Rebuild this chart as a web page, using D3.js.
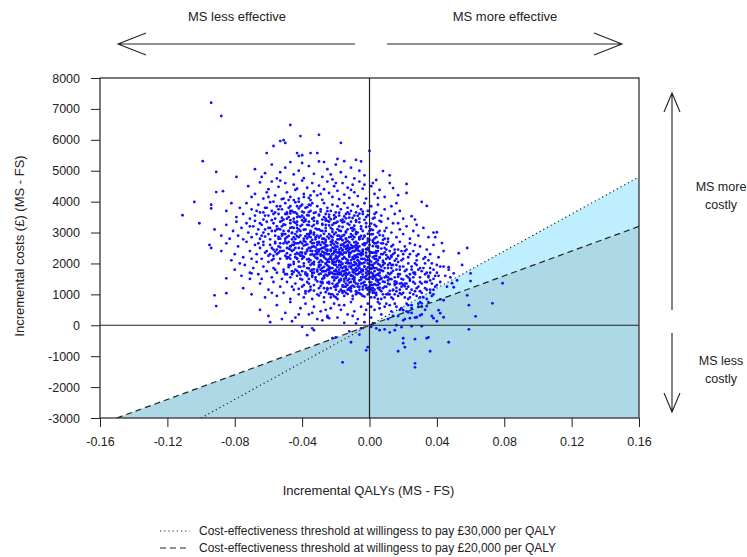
<!DOCTYPE html>
<html>
<head>
<meta charset="utf-8">
<script src="https://cdn.jsdelivr.net/npm/d3@7"></script>
<style>
  body { margin: 0; background: #fff; }
  text { font-family: "Liberation Sans", Arial, sans-serif; fill: #222; }
</style>
</head>
<body>
<div id="chart"></div>
<script>
// axis ticks
var xTicks = [-0.16, -0.12, -0.08, -0.04, 0, 0.04, 0.08, 0.12, 0.16];
var yTicks = [-3000, -2000, -1000, 0, 1000, 2000, 3000, 4000, 5000, 6000, 7000, 8000];

// willingness-to-pay thresholds (£ per QALY)
var thresholds = [30000, 20000];
var legendLabels = [
  "Cost-effectiveness threshold at willingess to pay £30,000 per QALY",
  "Cost-effectiveness threshold at willingess to pay £20,000 per QALY"
];

// bootstrap draws: [incremental QALYs x 1000, incremental cost £]
var simDraws = [
  // top
  [-94,7200],[-88,6770],[-47,6480],[-41,6120],[-30,6160],[-17,5900],[-51,5990],[-50,5900],[-53,5960],[-57,5800],
  [-61,5570],[-43,5570],[-42,5480],[-40,5500],[-47,5280],[-35,5570],[-31,5570],[-27,5280],[-19,5380],[-15,5310],
  [-8,5350],[0,5640],[-99,5310],[-91,4960],[-79,4800],[-87,4340],[-91,4310],[-104,3990],[-94,3900],[-94,3780],
  [-111,3560],[-101,3300],
  // 4700-5350
  [-68,5050],[-62,4920],[-64,4800],[-58,5200],[-55,4750],[-50,5100],[-45,4880],[-42,5000],[-39,4760],[-36,5150],
  [-33,4900],[-30,5300],[-28,4800],[-25,5050],[-22,4720],[-20,5200],[-17,4950],[-14,4800],[-11,5100],[-9,4750],
  [-6,5000],[-3,4850],[2,4600],[4,4700],[8,4990],[12,4850],[-53,4950],[-40,5250],[-23,4880],[-5,5300],
  // 4050-4700
  [-72,4500],[-68,4250],[-65,4620],[-63,4100],[-60,4400],[-58,4650],[-56,4200],[-54,4480],[-52,4080],[-50,4600],
  [-49,4300],[-47,4150],[-45,4550],[-44,4380],[-42,4100],[-40,4680],[-39,4250],[-37,4450],[-36,4120],[-34,4600],
  [-33,4330],[-31,4200],[-30,4520],[-28,4060],[-27,4400],[-25,4650],[-24,4280],[-22,4150],[-21,4500],[-19,4350],
  [-18,4080],[-16,4600],[-15,4230],[-13,4450],[-12,4120],[-10,4550],[-9,4300],[-7,4180],[-6,4650],[-4,4420],
  [-2,4100],[1,4500],[3,4250],[6,4380],[9,4150],[14,4440],[17,4210],[22,4570],[22,4280],[12,4600],
  [-70,4150],[-61,4300],[-43,4420],[-29,4250],[-11,4380],[5,4120],[-53,4680],[-35,4050],[-20,4600],[-3,4550],
  // 3400-4050
  [-85,3700],[-82,3950],[-79,3500],[-77,3800],[-75,3600],[-73,3950],[-71,3450],[-70,3750],[-68,3550],[-66,3900],
  [-65,3650],[-63,3420],[-62,3800],[-60,3550],[-59,3980],[-58,3700],[-56,3450],[-55,3850],[-54,3600],[-52,3750],
  [-51,3420],[-50,3950],[-49,3650],[-48,3500],[-47,3850],[-46,3700],[-45,3450],[-44,3980],[-43,3600],[-42,3780],
  [-41,3500],[-40,3900],[-39,3650],[-38,3420],[-37,3820],[-36,3550],[-35,3700],[-34,3950],[-33,3480],[-32,3650],
  [-31,3850],[-30,3550],[-29,3750],[-28,3420],[-27,3950],[-26,3600],[-25,3800],[-24,3500],[-23,3700],[-22,3900],
  [-21,3450],[-20,3650],[-19,3850],[-18,3550],[-17,3750],[-16,3420],[-15,3950],[-14,3600],[-13,3800],[-12,3480],
  [-11,3700],[-10,3900],[-9,3550],[-8,3650],[-7,3850],[-6,3450],[-5,3750],[-4,3600],[-3,3950],[-2,3500],
  [-1,3700],[1,3850],[2,3450],[4,3650],[5,3900],[7,3550],[9,3750],[11,3450],[13,3850],[15,3600],
  [18,3700],[20,3450],[25,3530],[27,3420],[31,3990],[34,3860],[16,3950],[-57,3600],[-43,3500],[-35,3880],
  [-26,3450],[-13,3650],[3,3600],[-67,3700],[-48,3800],
  // 2750-3400
  [-92,3100],[-88,2900],[-85,3250],[-83,2800],[-81,3050],[-79,3350],[-78,2900],[-76,3150],[-75,2780],[-73,3300],
  [-72,3000],[-70,2850],[-69,3200],[-68,3380],[-67,2950],[-66,3100],[-65,2800],[-64,3250],[-63,3000],[-62,2870],
  [-61,3350],[-60,3150],[-59,2780],[-58,3050],[-57,3300],[-56,2900],[-55,3200],[-54,2800],[-53,3100],[-52,3380],
  [-51,2950],[-50,3250],[-49,2850],[-48,3050],[-47,3300],[-46,2780],[-45,3150],[-44,2950],[-43,3350],[-42,2850],
  [-41,3050],[-40,3250],[-39,2800],[-38,3100],[-37,2950],[-36,3350],[-35,2850],[-34,3200],[-33,3000],[-32,2780],
  [-31,3300],[-30,3100],[-29,2900],[-28,3250],[-27,2800],[-26,3050],[-25,3380],[-24,2950],[-23,3150],[-22,2850],
  [-21,3300],[-20,3000],[-19,2780],[-18,3200],[-17,3050],[-16,2900],[-15,3350],[-14,2800],[-13,3100],[-12,3250],
  [-11,2950],[-10,3150],[-9,2850],[-8,3350],[-7,3000],[-6,2780],[-5,3200],[-4,3050],[-3,2900],[-2,3300],
  [-1,2800],[1,3100],[2,2950],[3,3250],[4,2850],[6,3050],[7,3350],[8,2900],[10,3150],[11,2800],
  [13,3000],[14,3300],[16,2850],[18,3100],[20,2950],[22,3200],[24,2800],[26,3050],[29,2900],[32,3150],
  [35,2850],[38,3000],[-62,3100],[-56,3050],[-50,2950],[-45,2850],[-40,3400],[-35,3050],[-31,2900],[-26,3250],
  [-22,3100],[-19,3350],[-14,3000],[-9,3100],[-4,2800],[0,3200],[5,3000],[-71,3200],[-47,3150],[-38,2880],
  [-28,3050],[-17,2800],[-11,3350],[9,3050],[-53,2800],[-43,3150],[-33,3250],[-24,3350],[-8,2950],[17,3300],
  [28,3250],[40,3010],[39,2850],
  // 2100-2750
  [-95,2600],[-94,2500],[-88,2400],[-82,2100],[-77,2000],[53,2330],[58,2500],[43,2660],
  [-85,2650],[-80,2300],[-78,2550],[-75,2200],[-73,2700],[-71,2400],[-70,2150],[-68,2600],[-67,2300],[-65,2500],
  [-64,2150],[-63,2700],[-61,2400],[-60,2250],[-59,2600],[-58,2100],[-57,2450],[-56,2700],[-55,2300],[-54,2550],
  [-53,2150],[-52,2400],[-51,2650],[-50,2250],[-49,2500],[-48,2700],[-47,2150],[-46,2400],[-45,2600],[-44,2300],
  [-43,2150],[-42,2500],[-41,2700],[-40,2350],[-39,2200],[-38,2600],[-37,2450],[-36,2150],[-35,2700],[-34,2300],
  [-33,2550],[-32,2400],[-31,2150],[-30,2650],[-29,2300],[-28,2500],[-27,2200],[-26,2700],[-25,2400],[-24,2150],
  [-23,2600],[-22,2300],[-21,2500],[-20,2700],[-19,2200],[-18,2450],[-17,2600],[-16,2150],[-15,2350],[-14,2700],
  [-13,2500],[-12,2250],[-11,2600],[-10,2150],[-9,2400],[-8,2700],[-7,2300],[-6,2550],[-5,2150],[-4,2450],
  [-3,2650],[-2,2250],[-1,2500],[1,2350],[2,2700],[3,2150],[4,2550],[5,2400],[6,2200],[7,2650],
  [8,2300],[9,2500],[10,2150],[11,2700],[12,2400],[13,2250],[14,2600],[16,2150],[17,2450],[18,2700],
  [20,2300],[21,2550],[23,2200],[24,2650],[26,2400],[28,2250],[30,2550],[32,2150],[34,2450],[36,2300],
  [38,2600],[41,2200],[44,2400],[-66,2650],[-62,2350],[-49,2200],[-44,2650],[-40,2150],[-36,2500],[-33,2250],
  [-29,2600],[-26,2450],[-23,2200],[-19,2650],[-15,2550],[-12,2450],[-8,2200],[-4,2300],[0,2600],[4,2250],
  [8,2650],[15,2350],[-57,2250],[-47,2550],[-38,2350],[-31,2450],[-21,2350],[-10,2550],[-1,2200],[19,2400],
  [27,2600],[-53,2650],[-42,2300],[-34,2650],[-27,2350],[-17,2350],[-6,2400],[10,2450],[22,2450],
  // 1460-2100
  [-85,1520],[-71,1700],[-70,1680],
  [-80,1800],[-76,1600],[-74,1950],[-71,1500],[-69,1850],[-67,2050],[-66,1650],[-64,1500],[-63,1900],[-61,1750],
  [-60,2050],[-58,1550],[-57,1850],[-55,1700],[-54,2000],[-52,1500],[-51,1800],[-50,1650],[-48,1950],[-47,1550],
  [-46,1750],[-45,2050],[-43,1600],[-42,1900],[-41,1500],[-40,1750],[-39,2000],[-38,1650],[-37,1850],[-36,1500],
  [-35,1950],[-34,1700],[-33,2050],[-32,1550],[-31,1800],[-30,1650],[-29,1950],[-28,1500],[-27,1750],[-26,2000],
  [-25,1600],[-24,1850],[-23,1700],[-22,2050],[-21,1550],[-20,1800],[-19,1650],[-18,1950],[-17,1500],[-16,1750],
  [-15,1900],[-14,1600],[-13,2050],[-12,1700],[-11,1850],[-10,1500],[-9,1950],[-8,1650],[-7,1800],[-6,2050],
  [-5,1550],[-4,1750],[-3,1900],[-2,1600],[-1,2000],[1,1700],[2,1500],[3,1850],[4,2050],[5,1650],
  [6,1950],[7,1500],[8,1750],[9,2000],[10,1600],[11,1850],[12,1500],[13,1700],[14,1950],[15,1550],
  [16,1800],[17,2050],[18,1650],[19,1500],[20,1900],[21,1750],[22,1600],[23,2000],[24,1500],[25,1800],
  [27,1650],[28,1950],[30,1550],[31,1750],[33,2000],[35,1600],[36,1850],[38,1500],[40,1700],[42,1900],
  [45,1600],[47,1800],[47,1880],[50,1680],[60,1680],[60,1430],[-44,1800],[-37,1600],[-27,1550],[-20,1950],
  [-14,1800],[-9,1700],[-4,1550],[0,1850],[6,1600],[11,1550],[18,1900],[26,1700],[-56,1800],[-42,1700],
  [-30,1900],[-23,1850],[-16,1600],[-11,2000],[-6,1700],[2,1950],[9,1550],[16,1950],[29,1800],[-49,1650],
  [-34,1800],[-18,1700],[-1,1650],[13,1850],[34,1700],
  // 810-1460
  [-92,970],[-85,1040],[-91,620],[79,1360],[58,970],[59,650],[73,710],[49,1360],[50,1230],[38,1000],
  [-75,1200],[-70,1000],[-65,1350],[-62,900],[-60,1150],[-57,1400],[-55,950],[-53,1250],[-51,1050],[-49,1400],
  [-47,850],[-45,1150],[-44,1350],[-42,1000],[-40,1250],[-39,900],[-37,1400],[-36,1100],[-34,850],[-33,1300],
  [-31,1000],[-30,1200],[-28,1400],[-27,900],[-25,1150],[-24,1350],[-22,1000],[-21,1250],[-19,850],[-18,1400],
  [-16,1100],[-15,950],[-13,1300],[-12,1150],[-10,850],[-9,1400],[-7,1050],[-6,1250],[-4,950],[-3,1400],
  [-1,1150],[1,900],[2,1300],[4,1050],[5,1400],[7,850],[8,1200],[10,1000],[11,1350],[13,900],
  [14,1150],[16,1400],[17,950],[19,1250],[20,1050],[22,1350],[23,850],[25,1150],[26,1400],[28,950],
  [29,1250],[31,1050],[33,1400],[34,850],[36,1150],[40,1300],[42,840],[44,810],[-58,1050],[-46,1250],
  [-38,1100],[-29,1050],[-20,1150],[-14,1250],[-8,1000],[0,1250],[6,1150],[12,1000],[18,1150],[24,1050],
  [30,900],[37,1350],[-35,1250],[-23,900],[-11,1100],[3,1050],[15,1300],[27,1100],
  // 160-810
  [-59,100],[-46,130],[63,290],[44,260],
  [-65,500],[-60,300],[-55,650],[-50,400],[-47,750],[-44,250],[-41,550],[-38,700],[-36,350],[-33,600],
  [-31,200],[-29,450],[-27,750],[-25,300],[-23,550],[-21,700],[-19,250],[-17,500],[-15,650],[-13,350],
  [-11,750],[-9,450],[-7,200],[-5,600],[-3,350],[-1,700],[1,250],[3,500],[5,750],[7,350],
  [9,600],[11,200],[13,450],[15,700],[17,300],[19,550],[21,200],[23,650],[25,400],[27,250],
  [29,600],[31,350],[33,500],[35,750],[37,300],[-52,200],[-42,350],[-34,400],[-26,500],[-18,650],
  [-10,300],[-2,500],[6,550],[14,300],[22,450],
  // around and below zero
  [4,-100],[6,-160],[9,-130],[12,-230],[15,-160],[16,0],[19,-60],[25,-30],[28,260],[30,320],
  [24,230],[20,160],[23,420],[25,550],[20,490],[31,-30],[38,230],[40,130],[42,390],[41,490],
  [34,620],[31,710],[30,750],[34,-420],[35,-390],[27,-450],[20,-420],[20,-580],[21,-710],[17,-840],
  [47,-550],[36,-840],[27,-1230],[27,-1360],[59,-130],
  [-37,-320],[-34,-100],[-33,-160],[-16,-1200],[-11,-550],[-2,-810],[-1,-710],[-22,-420],[-20,-390],[-28,160],
  [-25,260],[-24,230],[-5,-100],[-8,60],[-3,100],[1,-50],[2,60],[-12,-200],[-15,80],[-6,-300],[-40,-50],
  // dense core 3000-3700
  [-54,3120],[-52,3480],[-51,3260],[-49,3600],[-48,3050],[-47,3400],[-46,3170],[-45,3650],[-44,3310],[-43,3030],
  [-42,3520],[-41,3210],[-40,3680],[-39,3090],[-38,3370],[-37,3560],[-36,3240],[-35,3010],[-34,3450],[-33,3630],
  [-32,3130],[-31,3360],[-30,3580],[-29,3060],[-28,3280],[-27,3500],[-26,3150],[-25,3690],[-24,3230],[-23,3430],
  [-22,3020],[-21,3560],[-20,3310],[-19,3110],[-18,3640],[-17,3390],[-16,3180],[-15,3520],[-14,3040],[-13,3290],
  [-12,3600],[-11,3140],[-10,3470],[-9,3220],[-8,3020],[-7,3540],[-6,3330],[-5,3120],[-4,3680],[-3,3410],
  [-2,3180],[-1,3560],[1,3290],[2,3080],[3,3480],[4,3200],[-43,3250],[-39,3480],[-33,3380],[-29,3680],
  [-26,3390],[-22,3250],[-18,3060],[-14,3460],[-10,3060],[-6,3610],[-47,3620],[-36,3660],[-31,3100],[-24,3580],
  [-16,3330],[-8,3400],[0,3050],[6,3380],[-53,3350],[-20,3500],
  // dense core 2300-3000
  [-56,2380],[-54,2860],[-53,2520],[-52,2960],[-51,2410],[-50,2710],[-49,2330],[-48,2890],[-47,2560],[-46,2980],
  [-45,2440],[-44,2790],[-43,2340],[-42,2660],[-41,2910],[-40,2480],[-39,2730],[-38,2310],[-37,2620],[-36,2880],
  [-35,2410],[-34,2760],[-33,2930],[-32,2520],[-31,2350],[-30,2840],[-29,2470],[-28,2690],[-27,2960],[-26,2330],
  [-25,2580],[-24,2810],[-23,2420],[-22,2670],[-21,2940],[-20,2380],[-19,2540],[-18,2780],[-17,2330],[-16,2610],
  [-15,2920],[-14,2470],[-13,2730],[-12,2350],[-11,2860],[-10,2510],[-9,2680],[-8,2960],[-7,2420],[-6,2790],
  [-5,2330],[-4,2620],[-3,2870],[-2,2460],[-1,2710],[0,2380],[1,2940],[2,2560],[3,2810],[4,2400],
  [5,2690],[6,2920],[7,2480],[8,2760],[9,2360],[10,2620],[-45,2700],[-41,2360],[-37,2810],[-34,2540],
  [-31,2680],[-28,2380],[-25,2870],[-22,2510],[-19,2900],[-16,2420],[-13,2560],[-10,2780],[-7,2650],[-4,2380],
  [-1,2960],[2,2350],[-48,2480],[-39,2580],[-35,2970],[-30,2390],[-26,2760],[-21,2620],[-17,2850],[-12,2680],
  [-8,2500],[-3,2590],[3,2660],[-43,2880],[-33,2660],[-27,2510],[-23,2890],[-18,2370],[-14,2800],[-9,2400],
  [-5,2890],[0,2760],[5,2510],
  // dense core 1600-2300
  [-51,1720],[-49,2160],[-48,1880],[-47,2270],[-46,1650],[-45,1980],[-44,2200],[-43,1760],[-42,2060],[-41,1630],
  [-40,2250],[-39,1910],[-38,1710],[-37,2130],[-36,1840],[-35,2280],[-34,1610],[-33,1970],[-32,2190],[-31,1740],
  [-30,2040],[-29,1670],[-28,2260],[-27,1890],[-26,1640],[-25,2110],[-24,1790],[-23,2230],[-22,1680],[-21,1960],
  [-20,2170],[-19,1730],[-18,2080],[-17,1870],[-16,2290],[-15,1650],[-14,2020],[-13,1800],[-12,2210],[-11,1620],
  [-10,1940],[-9,2150],[-8,1760],[-7,2100],[-6,1860],[-5,2260],[-4,1640],[-3,2030],[-2,1810],[-1,2200],
  [0,1700],[1,2060],[2,1880],[3,2240],[4,1620],[5,1990],[6,2180],[7,1780],[8,2090],[9,1850],
  [10,2270],[11,1690],[12,2010],[13,2210],[14,1760],[15,2090],[-47,1950],[-43,2160],[-39,2210],[-35,1760],
  [-31,2180],[-28,1740],[-25,1940],[-22,2100],[-19,1880],[-16,1990],[-13,2110],[-10,1720],[-7,1920],[-4,2150],
  [-1,1870],[2,1670],[5,1800],[8,1950],[-45,1720],[-41,1890],[-37,1650],[-33,1810],[-29,2100],[-26,1990],
  [-23,1850],[-20,1650],[-17,2050],[-14,1700],[-11,2100],[-8,1980],[-5,1720],[-2,2100],[1,1820],[4,2150],
  [11,1950],[-36,2050],[-30,1880],[-24,1700],[-18,1800],[-12,1900],[-6,2000],[0,2100],[6,1700],
  // dense core 900-1600
  [-42,1180],[-40,1480],[-38,1030],[-36,1350],[-34,1570],[-33,1120],[-31,1420],[-30,960],[-29,1270],[-27,1530],
  [-26,1070],[-25,1380],[-23,1200],[-22,1560],[-21,940],[-20,1310],[-18,1090],[-17,1460],[-16,1250],[-14,1530],
  [-13,1010],[-12,1380],[-11,1190],[-9,1550],[-8,1090],[-7,1340],[-5,1480],[-4,1160],[-3,930],[-2,1290],
  [-1,1500],[0,1070],[1,1390],[2,1200],[3,1560],[4,980],[5,1300],[6,1480],[7,1100],[8,1410],
  [9,1250],[10,1560],[11,1020],[12,1320],[13,1490],[14,1130],[15,1420],[16,1210],[17,1570],[18,1040],
  [19,1360],[20,1480],[22,1180],[24,1440],[-35,1150],[-28,1360],[-24,1020],[-19,1270],[-15,1420],[-10,1280],
  [-6,1040],[-1,1210],[3,1330],[7,1530],[12,1110],[16,1350],[21,1260],[-39,1300],[-32,1480],[-27,1200],
  [-20,1530],[-15,1100],[-9,1430],[-4,1370],[1,1150],[6,1220],[11,1450],
  // densest centre
  [-35,2100],[-34,2400],[-33,1700],[-32,2850],[-31,2600],[-30,1950],[-29,2250],[-28,2800],[-27,1600],[-26,2150],
  [-25,2450],[-24,1900],[-23,2700],[-22,2000],[-21,1750],[-20,2550],[-19,2350],[-18,2900],[-17,1650],[-16,2450],
  [-15,2200],[-14,1900],[-13,2600],[-12,2000],[-11,2350],[-10,2900],[-9,1800],[-8,2250],[-7,2550],[-6,1700],
  [-5,2000],[-34,2000],[-32,2300],[-30,2700],[-28,1850],[-26,2550],[-24,2300],[-22,2750],[-20,2050],[-18,2250],
  [-16,2750],[-14,2350],[-12,2850],[-10,2200],[-8,2450],[-6,2850],[-33,2950],[-29,1800],[-25,2050],[-21,2150],
  [-17,2500],[-13,1650],[-9,2550],[-31,2300],[-27,2650],[-23,2400],[-19,2100],[-15,2650],[-11,1900],[-7,2100],
  // lower centre, left of zero line
  [-25,1200],[-24,1650],[-23,2450],[-22,1350],[-21,2050],[-20,900],[-19,1550],[-18,2350],[-17,1150],[-16,1850],
  [-15,2550],[-14,1050],[-13,1450],[-12,2300],[-11,1600],[-10,950],[-9,2050],[-8,1350],[-7,2500],[-6,1150],
  [-5,1800],[-4,2400],[-3,1300],[-2,1700],[-1,2450],[0,1400],[1,1950],[2,1050],[3,2350],[4,1500],
  [5,2100],[-24,2050],[-22,1850],[-20,2450],[-18,1450],[-16,1300],[-14,2150],[-12,1500],[-10,2400],[-8,1850],
  [-6,1450],[-4,2000],[-2,1200],[0,2250],[2,1600],[4,1850],[-25,1800],[-23,1000],[-21,1450],[-19,2200],
  [-17,1700],[-15,1250],[-13,2000],[-11,2500],[-9,1250],[-7,1650],[-5,2300],[-3,1900],[-1,1000],[1,1550],
  [3,1750],[5,1200],[-23,2150],[-21,1650],[-19,1000],[-17,2300],[-15,1750],[-13,1150],[-11,1400],[-9,2250],
  [-7,1250],[-5,1000],[-3,2150],[-1,1750],[1,2350],[3,1150],[5,1650],[-24,1400],[-22,2300],[-20,1750],
  [-18,2050],[-16,1050],[-14,1350],[-12,2500],[-10,1600],[-8,1100],[-6,2300],[-4,1800],[-2,2350],[0,1550],
  [2,2200],[4,1300],[-25,2300],[-23,1700],[-21,2400],[-19,1350],[-17,1950],[-15,1500],[-13,2400],[-11,1250],
  [-9,1500],[-7,2200],[-5,1350],[-3,1550],[-1,2100],[1,1300],[3,2000],[5,1450],[-24,1850],[-20,1250],
  [-16,2150],[-12,1200],[-8,2000],[-4,1250],[0,1950],[4,2350],[-22,1550],[-18,1650],[-14,1850],[-10,1800],
  [-6,1950],[-2,1500],[2,1850],[-26,2600],[-20,2250],[-14,2550],[-8,2600],[-2,2650],[-28,2050],[-30,2450],
  [-26,1750],[-29,1400],[-27,2250],
  // right of zero line
  [1,600],[2,2750],[3,900],[4,1450],[5,2550],[6,700],[7,1900],[8,1000],[9,2800],[10,1250],
  [11,2200],[12,650],[13,1950],[14,850],[15,2450],[16,1100],[17,1650],[18,500],[19,2100],[20,1300],
  [21,900],[22,1800],[23,1250],[24,2300],[25,650],[26,1550],[27,2000],[28,1200],[29,700],[30,1850],
  [31,1350],[32,900],[33,1650],[34,1150],[35,2100],[36,1450],[37,950],[38,1800],[39,1250],[41,1600],
  [2,1100],[4,2650],[6,1350],[8,2050],[10,700],[12,1650],[14,2300],[16,600],[18,1350],[20,2150],
  [22,700],[24,1650],[26,1000],[28,2100],[30,1400],[32,1850],[34,1400],[36,1700],[38,1150],[40,1950],
  [3,1600],[5,850],[7,2300],[9,1400],[11,1000],[13,2550],[15,1350],[17,2250],[19,1000],[21,2400],
  [23,1550],[25,1900],[27,1350],[29,2300],[31,600],[33,1200],[35,1550],[37,2000],[1,1200],[3,2650],
  [6,1800],[9,900],[12,2150],[15,1000],[18,1800],[21,1350],[24,900],[27,1700],[30,1100],[33,2200],
  [36,1050],[39,1600],[42,1400],[44,1900],[46,1250],[48,1550],[52,1450],[55,1950],
  // upper-left flank
  [-65,3300],[-63,2600],[-61,3800],[-60,2950],[-59,2300],[-58,3400],[-57,4000],[-56,2650],[-55,3100],[-54,3750],
  [-53,2400],[-52,3200],[-51,4100],[-50,2800],[-49,3450],[-48,2200],[-47,3700],[-46,3000],[-45,4050],[-44,2500],
  [-43,3850],[-42,3100],[-41,2250],[-40,3550],[-39,4150],[-38,2700],[-37,3250],[-36,3900],[-35,2500],[-64,2900],
  [-62,3550],[-60,4150],[-58,2500],[-56,3650],[-54,2350],[-52,2900],[-50,3600],[-48,4050],[-46,2600],[-44,3650],
  [-42,4000],[-40,2650],[-38,3800],[-36,2950],[-63,3650],[-59,3150],[-55,2450],[-51,3050],[-47,2450],[-43,2650],
  [-39,3350],[-35,4200],[-57,2150],[-53,3850],[-49,2650],[-45,3350],[-41,3850],[-37,2400]
];

var width = 747, height = 557;
var plot = { left: 100, right: 639, top: 78, bottom: 418 };

var svg = d3.select("#chart")
  .append("svg")
  .attr("width", width)
  .attr("height", height);

svg.append("rect")
  .attr("width", width)
  .attr("height", height)
  .attr("fill", "white");

var xScale = d3.scaleLinear()
  .domain([-0.16, 0.16])
  .range([plot.left, plot.right]);

var yScale = d3.scaleLinear()
  .domain([-3000, 8000])
  .range([plot.bottom, plot.top]);

svg.append("clipPath")
  .attr("id", "plotclip")
  .append("rect")
  .attr("x", plot.left)
  .attr("y", plot.top)
  .attr("width", plot.right - plot.left)
  .attr("height", plot.bottom - plot.top);

var inner = svg.append("g").attr("clip-path", "url(#plotclip)");

// region below each threshold line (lighter for £30k, darker for £20k on top)
var xMax = 0.16, yMin = -3000;
var fills = ["#bfefff", "#add8e6"];
thresholds.forEach(function(k, i) {
  var poly = [[yMin / k, yMin], [0, 0], [xMax, xMax * k], [xMax, yMin]];
  inner.append("path")
    .attr("d", d3.line().x(d => xScale(d[0])).y(d => yScale(d[1]))(poly) + "Z")
    .attr("fill", fills[i])
    .attr("stroke", "none");
});

// scatter
inner.selectAll("circle")
  .data(simDraws)
  .enter()
  .append("circle")
  .attr("cx", d => xScale(d[0] / 1000))
  .attr("cy", d => yScale(d[1]))
  .attr("r", 1.4)
  .attr("fill", "#1010ff");

// quadrant lines
inner.append("line")
  .attr("x1", xScale(0)).attr("x2", xScale(0))
  .attr("y1", plot.top).attr("y2", plot.bottom)
  .attr("stroke", "#222").attr("stroke-width", 1.2);
inner.append("line")
  .attr("x1", plot.left).attr("x2", plot.right)
  .attr("y1", yScale(0)).attr("y2", yScale(0))
  .attr("stroke", "#222").attr("stroke-width", 1.2);

// threshold lines
var dashes = ["1.2,3", "6,4"];
thresholds.forEach(function(k, i) {
  inner.append("line")
    .attr("x1", xScale(yMin / k)).attr("y1", yScale(yMin))
    .attr("x2", xScale(xMax)).attr("y2", yScale(xMax * k))
    .attr("stroke", "#222")
    .attr("stroke-width", 1.2)
    .attr("stroke-dasharray", dashes[i]);
});

// box
svg.append("rect")
  .attr("x", plot.left).attr("y", plot.top)
  .attr("width", plot.right - plot.left)
  .attr("height", plot.bottom - plot.top)
  .attr("fill", "none")
  .attr("stroke", "#222")
  .attr("stroke-width", 1.2);

// axes
var xAxis = d3.axisBottom(xScale)
  .tickValues(xTicks)
  .tickSize(9)
  .tickPadding(10)
  .tickFormat(d => d.toFixed(2));
var yAxis = d3.axisLeft(yScale)
  .tickValues(yTicks)
  .tickSize(9)
  .tickPadding(11)
  .tickFormat(d => String(d));

var gx = svg.append("g")
  .attr("transform", "translate(0," + plot.bottom + ")")
  .call(xAxis);
var gy = svg.append("g")
  .attr("transform", "translate(" + plot.left + ",0)")
  .call(yAxis);
[gx, gy].forEach(function(g) {
  g.select(".domain").remove();
  g.selectAll("line").attr("stroke", "#222");
  g.selectAll("text").attr("font-size", "12.5px").attr("fill", "#222")
    .attr("font-family", "'Liberation Sans', Arial, sans-serif");
});

// axis titles
svg.append("text")
  .attr("x", (plot.left + plot.right) / 2 - 1)
  .attr("y", 495)
  .attr("text-anchor", "middle")
  .attr("font-size", "13px")
  .text("Incremental QALYs (MS - FS)");

svg.append("text")
  .attr("transform", "translate(24,246) rotate(-90)")
  .attr("text-anchor", "middle")
  .attr("font-size", "13px")
  .text("Incremental costs (£) (MS - FS)");

// top annotation arrows
var arrowG = svg.append("g").attr("stroke", "#222").attr("fill", "none").attr("stroke-width", 1.1);
arrowG.append("path").attr("d", "M355,44H118M146,33L118,44L146,55");
arrowG.append("path").attr("d", "M387,44H622M594,33L622,44L594,55");
arrowG.append("path").attr("d", "M672,310V93M664,112L672,93L680,112");
arrowG.append("path").attr("d", "M672,333V412M664,393L672,412L680,393");

var notes = [
  { x: 237, y: 21, t: "MS less effective", s: 13 },
  { x: 505, y: 21, t: "MS more effective", s: 13 },
  { x: 721, y: 191, t: "MS more", s: 12.5 },
  { x: 721, y: 209, t: "costly", s: 12.5 },
  { x: 721, y: 365, t: "MS less", s: 12.5 },
  { x: 721, y: 383, t: "costly", s: 12.5 }
];
svg.selectAll("text.note")
  .data(notes)
  .enter()
  .append("text")
  .attr("class", "note")
  .attr("x", d => d.x)
  .attr("y", d => d.y)
  .attr("text-anchor", "middle")
  .attr("font-size", d => d.s + "px")
  .text(d => d.t);

// legend
var legend = svg.append("g");
legendLabels.forEach(function(label, i) {
  var ly = 535 + i * 17;
  legend.append("line")
    .attr("x1", 160).attr("x2", 190)
    .attr("y1", ly - 4).attr("y2", ly - 4)
    .attr("stroke", "#222")
    .attr("stroke-width", 1.1)
    .attr("stroke-dasharray", dashes[i]);
  legend.append("text")
    .attr("x", 199)
    .attr("y", ly)
    .attr("font-size", "12px")
    .text(label);
});
</script>
</body>
</html>
